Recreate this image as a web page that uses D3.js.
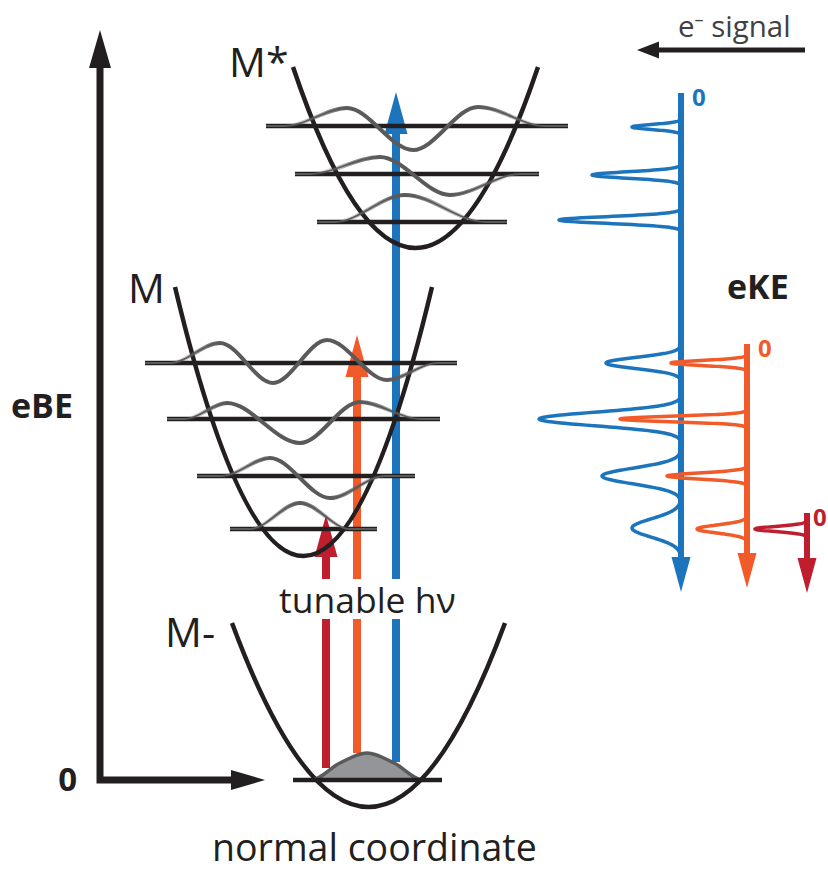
<!DOCTYPE html>
<html><head><meta charset="utf-8">
<script src="https://cdn.jsdelivr.net/npm/d3@7"></script>
<style>body{margin:0;background:#fff}svg{display:block}</style>
</head><body>
<svg id="c" width="828" height="873"></svg>
<script>
// ---------------- data (normal coordinate q, binding energy eBE, arbitrary units) ----------------
const wellNames     = ["M-", "M", "M*"];
const wellCenterQ   = [0.005, -0.645, 0.475];
const wellHalfWidth = [1.365, 1.285, 1.225];
const wellMinE      = [-0.27, 2.24, 5.32];
const wellTopE      = [1.57, 4.93, 7.13];
const wellLabelQ    = [-2.03, -2.40, -1.39];
const wellLabelE    = [1.33, 4.77, 7.03];

// vibrational levels (index 0 = anion ground state)
const levelE  = [0, 2.51, 3.04, 3.61, 4.17, 5.58, 6.06, 6.54];
const levelQ0 = [-0.75, -1.38, -1.71, -2.01, -2.23, -0.51, -0.73, -1.02];
const levelQ1 = [0.74, 0.09, 0.47, 0.72, 0.89, 1.39, 1.71, 2.00];

// wavefunction knots (q, amplitude)
const waveQ = [
  [-0.70, -0.57, -0.28, -0.01, 0.26, 0.55, 0.68],
  [-1.38, -1.18, -0.68, -0.18, 0.09],
  [-1.71, -1.46, -0.98, -0.38, 0.17, 0.47],
  [-2.01, -1.83, -1.41, -0.68, -0.08, 0.52, 0.72],
  [-2.23, -1.98, -1.48, -0.95, -0.41, 0.19, 0.69, 0.89],
  [-0.51, -0.33, 0.37, 1.17, 1.39],
  [-0.73, -0.58, 0.12, 0.82, 1.52, 1.71],
  [-1.02, -0.83, -0.21, 0.45, 1.10, 1.77, 2.00]
];
const waveAmp = [
  [0, 0, 0.17, 0.27, 0.17, 0, 0],
  [0, 0, 0.26, 0, 0],
  [0, 0, 0.18, -0.22, 0, 0],
  [0, 0, 0.16, -0.24, 0.17, 0, 0],
  [0, 0, 0.20, -0.20, 0.23, -0.17, 0, 0],
  [0, 0, 0.27, 0, 0],
  [0, 0, 0.17, -0.21, 0, 0],
  [0, 0, 0.18, -0.24, 0.19, 0, 0]
];

// photons (red, orange, blue)
const photonColor  = ["#BE1E2D", "#F15A29", "#1C75BC"];
const photonQ      = [-0.42, -0.11, 0.28];
const photonStartE = [0.12, 0.27, 0.18];
const photonEndE   = [2.65, 4.45, 6.88];
const photonGapE   = [1.61, 2.01];

// photoelectron spectra (blue, orange, red)
const specColor = ["#1C75BC", "#F15A29", "#BE1E2D"];
const specTopE  = [6.87, 4.36, 2.67];
const specEndE  = [1.88, 1.92, 1.87];
const bluePeakE = [6.53, 6.05, 5.60, 4.17, 3.61, 3.04, 2.52];
const bluePeakI = [0.49, 0.89, 1.22, 0.75, 1.42, 0.79, 0.49];
const bluePeakW = [0.025, 0.032, 0.034, 0.055, 0.068, 0.079, 0.092];
const orangePeakE = [4.17, 3.61, 3.04, 2.51];
const orangePeakI = [0.76, 1.27, 0.80, 0.50];
const orangePeakW = [0.025, 0.027, 0.030, 0.040];
const redPeakE = [2.51];
const redPeakI = [0.52];
const redPeakW = [0.026];

// axes
const axisQ = -2.68, axisTopE = 7.50, axisRightQ = -1.03;

// ---------------- drawing ----------------
const svg = d3.select("#c");
const FONT = "'Open Sans', 'Noto Sans', sans-serif";
const BLACK = "#231F20", GREY = "#5A5A5C";
const x = d3.scaleLinear().domain([-4, 5]).range([-32, 868]);
const y = d3.scaleLinear().domain([0, 8]).range([780, -20]);
const sig = d3.scaleLinear().domain([0, 1]).range([0, 100]);
const specAxisX = [681, 747, 807];

function arrowHead(g, tipX, tipY, dir, len, half, color) {
  let pts;
  if (dir === "up") pts = [[tipX, tipY], [tipX - half, tipY + len], [tipX + half, tipY + len]];
  else if (dir === "down") pts = [[tipX, tipY], [tipX - half, tipY - len], [tipX + half, tipY - len]];
  else if (dir === "right") pts = [[tipX, tipY], [tipX - len, tipY - half], [tipX - len, tipY + half]];
  else pts = [[tipX, tipY], [tipX + len, tipY - half], [tipX + len, tipY + half]];
  g.append("polygon").attr("points", pts.map(p => p.join(",")).join(" ")).attr("fill", color);
}

// main axes
const ax = svg.append("g");
ax.append("path")
  .attr("d", `M${x(axisQ)},${y(axisTopE) + 30} L${x(axisQ)},${y(0)} L${x(axisRightQ) - 28},${y(0)}`)
  .attr("fill", "none").attr("stroke", BLACK).attr("stroke-width", 7).attr("stroke-linejoin", "miter");
arrowHead(ax, x(axisQ), y(axisTopE), "up", 38, 11, BLACK);
arrowHead(ax, x(axisRightQ), y(0), "right", 34, 10, BLACK);
ax.append("text").attr("x", x(axisQ) - 23).attr("y", y(0) + 11).attr("text-anchor", "end")
  .attr("font-family", FONT).attr("font-weight", 700).attr("font-size", 33).attr("fill", BLACK).text("0");
ax.append("text").attr("x", 11).attr("y", y(3.62))
  .attr("font-family", FONT).attr("font-weight", 700).attr("font-size", 34).attr("fill", BLACK).text("eBE");
ax.append("text").attr("x", x(-1.56)).attr("y", 861)
  .attr("font-family", FONT).attr("font-size", 37.5).attr("fill", BLACK).text("normal coordinate");

// photon arrows
const ph = svg.append("g");
photonColor.forEach((c, i) => {
  const px = x(photonQ[i]);
  ph.append("line").attr("x1", px).attr("x2", px)
    .attr("y1", y(photonStartE[i])).attr("y2", y(photonGapE[0]))
    .attr("stroke", c).attr("stroke-width", 8);
  ph.append("line").attr("x1", px).attr("x2", px)
    .attr("y1", y(photonGapE[1])).attr("y2", y(photonEndE[i]) + 35)
    .attr("stroke", c).attr("stroke-width", 8);
  arrowHead(ph, px, y(photonEndE[i]), "up", 42, 11.5, c);
});
ph.append("text").attr("x", x(-0.89)).attr("y", y(1.67))
  .attr("font-family", FONT).attr("font-size", 35.5).attr("fill", BLACK).text("tunable hν");

// potential wells
const wl = svg.append("g");
wellNames.forEach((n, i) => {
  const xl = x(wellCenterQ[i] - wellHalfWidth[i]), xr = x(wellCenterQ[i] + wellHalfWidth[i]);
  const yt = y(wellTopE[i]), yv = y(wellMinE[i]);
  const p = d3.path();
  p.moveTo(xl, yt);
  p.quadraticCurveTo(x(wellCenterQ[i]), 2 * yv - yt, xr, yt);
  wl.append("path").attr("d", p.toString()).attr("fill", "none")
    .attr("stroke", BLACK).attr("stroke-width", 4.5);
  wl.append("text").attr("x", x(wellLabelQ[i])).attr("y", y(wellLabelE[i]))
    .attr("font-family", FONT).attr("font-size", 41).attr("fill", BLACK).text(n);
});

// ground-state wavefunction (filled)
const lineWave = d3.line().curve(d3.curveMonotoneX);
{
  const pts = waveQ[0].map((q, k) => [x(q), y(levelE[0] + waveAmp[0][k])]);
  const area = d3.area().curve(d3.curveMonotoneX).x(d => d[0]).y0(y(levelE[0])).y1(d => d[1]);
  wl.append("path").attr("d", area(pts)).attr("fill", "#939598");
  wl.append("path").attr("d", lineWave(pts)).attr("fill", "none").attr("stroke", GREY).attr("stroke-width", 3.5);
}

// level lines
levelE.forEach((e, i) => {
  wl.append("line").attr("x1", x(levelQ0[i])).attr("x2", x(levelQ1[i]))
    .attr("y1", y(e)).attr("y2", y(e)).attr("stroke", BLACK).attr("stroke-width", 4.5);
});

// excited wavefunctions (tapered look: thin full line + thick faded core)
const defs = svg.append("defs");
levelE.forEach((e, i) => {
  if (i === 0) return;
  const pts = waveQ[i].map((q, k) => [x(q), y(e + waveAmp[i][k])]);
  const x0 = pts[0][0], x1 = pts[pts.length - 1][0];
  const f = v => (v - x0) / (x1 - x0);
  const gid = "wg" + i;
  const gr = defs.append("linearGradient").attr("id", gid).attr("gradientUnits", "userSpaceOnUse")
    .attr("x1", x0).attr("x2", x1).attr("y1", 0).attr("y2", 0);
  const n = pts.length;
  [[f(pts[1][0]), 0], [f(pts[2][0]), 1], [f(pts[n - 3][0]), 1], [f(pts[n - 2][0]), 0]]
    .forEach(s => gr.append("stop").attr("offset", s[0]).attr("stop-color", GREY).attr("stop-opacity", s[1]));
  wl.append("path").attr("d", lineWave(pts)).attr("fill", "none").attr("stroke", GREY).attr("stroke-width", 1.8);
  wl.append("path").attr("d", lineWave(pts)).attr("fill", "none").attr("stroke", `url(#${gid})`).attr("stroke-width", 4);
});

// spectra
const specPeaks = [
  [bluePeakE, bluePeakI, bluePeakW],
  [orangePeakE, orangePeakI, orangePeakW],
  [redPeakE, redPeakI, redPeakW]
];
const sp = svg.append("g");
specColor.forEach((c, s) => {
  const ax0 = specAxisX[s];
  const [E, I, W] = specPeaks[s];
  E.forEach((e, k) => {
    const pts = d3.range(0, 81).map(j => {
      const ee = e - 3.6 * W[k] + j * (7.2 * W[k] / 80);
      const v = I[k] * Math.exp(-0.5 * Math.pow((ee - e) / W[k], 2));
      return [ax0 - sig(v), y(ee)];
    });
    sp.append("path").attr("d", d3.line()(pts)).attr("fill", "none")
      .attr("stroke", c).attr("stroke-width", 3.5).attr("stroke-linejoin", "round");
  });
  sp.append("line").attr("x1", ax0).attr("x2", ax0)
    .attr("y1", y(specTopE[s])).attr("y2", y(specEndE[s]) - 30)
    .attr("stroke", c).attr("stroke-width", 6);
  arrowHead(sp, ax0, y(specEndE[s]), "down", 35, 9.5, c);
  sp.append("text").attr("x", ax0 + (s === 2 ? 6 : 11)).attr("y", y(specTopE[s]) + 13)
    .attr("font-family", FONT).attr("font-weight", 700).attr("font-size", 24).attr("fill", c).text("0");
});
sp.append("text").attr("x", 727).attr("y", 299)
  .attr("font-family", FONT).attr("font-weight", 700).attr("font-size", 34).attr("fill", BLACK).text("eKE");

// e- signal legend
const lg = svg.append("g");
lg.append("line").attr("x1", 805).attr("x2", 655).attr("y1", 50).attr("y2", 50)
  .attr("stroke", BLACK).attr("stroke-width", 5);
arrowHead(lg, 637, 50, "left", 22, 8.5, BLACK);
const t = lg.append("text").attr("x", 678).attr("y", 37)
  .attr("font-family", FONT).attr("font-size", 29.5).attr("fill", "#414042");
t.append("tspan").text("e");
t.append("tspan").attr("dy", -11).attr("font-size", 18).text("–");
t.append("tspan").attr("dy", 11).text(" signal");
</script>
</body></html>
